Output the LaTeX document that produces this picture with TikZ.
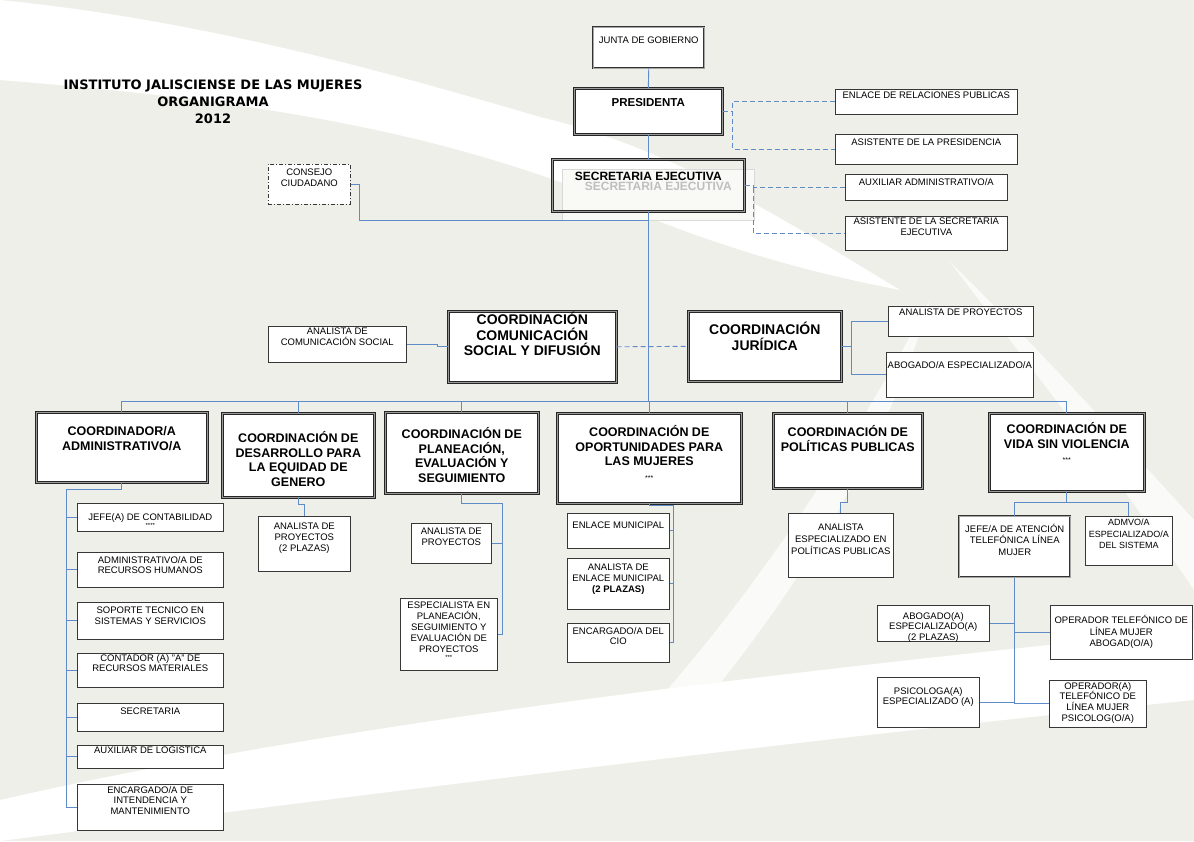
\documentclass[tikz,border=0pt]{standalone}
\usepackage{fontspec}
\setmainfont{Liberation Sans}
\newfontfamily\titulofont{DejaVu Sans}

\definecolor{fondo}{RGB}{239,239,233}
\definecolor{linea}{RGB}{95,140,200}
\definecolor{borde}{RGB}{55,55,55}

\tikzset{every picture/.style={line width=0.75pt},
  caja/.style={draw=borde, fill=white, line width=0.6pt, inner sep=0pt, anchor=north west,
    font=\fontsize{9.5}{10.8}\selectfont},
  cajafina/.style={caja, draw=black!80, double=black!35, double distance=0.9pt, line width=0.5pt},
  cajadoble/.style={caja, draw=black!85, double=black!40, double distance=1.4pt, line width=0.6pt,
    font=\bfseries\fontsize{12.5}{14.7}\selectfont},
  rama/.style={draw=linea, line width=0.9pt},
  ramapunteada/.style={rama, dash pattern=on 5pt off 3pt},
}
% texto arriba dentro de una caja de ancho #1, alto #2, margen superior #3
\newcommand{\cuadro}[4]{\parbox[t][#2pt][t]{#1pt}{\centering\vspace*{#3pt}#4\par}}

\begin{document}
\begin{tikzpicture}[x=1pt,y=1pt,yscale=-1]
\useasboundingbox (0,0) rectangle (1194,841);

% fondo y franjas blancas
\fill[fondo] (0,0) rectangle (1194,841);
\fill[white] (0,0) -- (0,80) .. controls (250,100) and (450,130) .. (643,215) .. controls (760,262) and (850,280) .. (900,290) .. controls (800,230) and (680,150) .. (540,117) .. controls (380,70) and (200,20) .. (0,0) -- cycle;
\fill[white] (0,800) .. controls (350,720) and (800,670) .. (1194,630) -- (1194,700) .. controls (800,740) and (400,790) .. (0,841) -- cycle;
\fill[white, opacity=0.7] (950,262) .. controls (1050,360) and (1130,450) .. (1194,520) -- (1194,590) .. controls (1120,480) and (1040,380) .. (950,262) -- cycle;
\fill[white, opacity=0.7] (930,300) .. controls (860,430) and (760,590) .. (640,720) -- (690,720) .. controls (800,590) and (890,440) .. (930,300) -- cycle;

% Titulo
\node[font=\titulofont\bfseries\fontsize{13}{17}\selectfont, align=center] (titulo) at (213,102) {INSTITUTO JALISCIENSE DE LAS MUJERES\\ORGANIGRAMA\\2012};

% Direccion
\node[cajafina] (jg) at (593,27) {\cuadro{111}{41}{10}{JUNTA DE GOBIERNO}};
\node[cajadoble, font=\bfseries\fontsize{11.5}{13}\selectfont] (pres) at (574,88) {\cuadro{148}{46}{10}{PRESIDENTA}};
\node[caja, draw=black!15, fill=white!60!fondo, font=\bfseries\fontsize{12}{13}\selectfont, text=black!25] (sefondo) at (562,169) {\cuadro{192}{51}{13}{SECRETARIA EJECUTIVA}};
\node[cajadoble, fill=none, font=\bfseries\fontsize{12}{13}\selectfont] (se) at (552,159) {\cuadro{192}{52}{13}{SECRETARIA EJECUTIVA}};

% Apoyo de presidencia y secretaria
\node[caja] (enl) at (835,89) {\cuadro{182}{25}{3}{ENLACE DE RELACIONES PUBLICAS}};
\node[caja] (asp) at (835,134) {\cuadro{182}{30}{5}{ASISTENTE DE LA PRESIDENCIA}};
\node[caja] (aux) at (845,174) {\cuadro{162}{26}{4}{AUXILIAR ADMINISTRATIVO/A}};
\node[caja] (ase) at (845,216) {\cuadro{162}{34}{2}{ASISTENTE DE LA SECRETARIA\\EJECUTIVA}};
\node[caja, dash pattern=on 4pt off 2pt on 1pt off 2pt] (cc) at (268,164) {\cuadro{82}{40}{5}{CONSEJO\\CIUDADANO}};

% Coordinaciones intermedias
\node[caja] (acs) at (268,326) {\cuadro{138}{36}{2}{ANALISTA DE\\COMUNICACIÓN SOCIAL}};
\node[cajadoble, font=\bfseries\fontsize{14}{15.5}\selectfont] (ccs) at (448,311) {\cuadro{168}{71}{1}{COORDINACIÓN\\COMUNICACIÓN\\SOCIAL Y DIFUSIÓN}};
\node[cajadoble, font=\bfseries\fontsize{14}{16}\selectfont] (jur) at (688,311) {\cuadro{153}{70}{11}{COORDINACIÓN\\JURÍDICA}};
\node[caja] (apj) at (888,306) {\cuadro{145}{30}{3}{ANALISTA DE PROYECTOS}};
\node[caja] (abj) at (886,352) {\cuadro{147}{45}{9}{ABOGADO/A ESPECIALIZADO/A}};

% Coordinaciones de area
\node[cajadoble] (adm) at (36,412) {\cuadro{171}{70}{14}{COORDINADOR/A\\ADMINISTRATIVO/A}};
\node[cajadoble] (des) at (222,413) {\cuadro{152}{84}{18}{COORDINACIÓN DE\\DESARROLLO PARA\\LA EQUIDAD DE\\GENERO}};
\node[cajadoble] (pla) at (385,412) {\cuadro{153}{81}{15}{COORDINACIÓN DE\\PLANEACIÓN,\\EVALUACIÓN Y\\SEGUIMIENTO}};
\node[cajadoble] (opo) at (557,413) {\cuadro{184}{90}{12}{COORDINACIÓN DE\\OPORTUNIDADES PARA\\LAS MUJERES\\{\mdseries\fontsize{7}{8}\selectfont ***}}};
\node[cajadoble] (pol) at (773,413) {\cuadro{149}{75}{12}{COORDINACIÓN DE\\POLÍTICAS PUBLICAS}};
\node[cajadoble] (vid) at (989,413) {\cuadro{155}{78}{9}{COORDINACIÓN DE\\VIDA SIN VIOLENCIA\\{\mdseries\fontsize{7}{8}\selectfont ***}}};

% Administracion
\node[caja] (jefc) at (77,503) {\cuadro{146}{28}{10}{JEFE(A) DE CONTABILIDAD\\[-3pt]{\fontsize{6}{6}\selectfont ****}}};
\node[caja] (arh) at (77,552) {\cuadro{146}{35}{4}{ADMINISTRATIVO/A  DE\\RECURSOS HUMANOS}};
\node[caja] (sop) at (77,602) {\cuadro{146}{37}{5}{SOPORTE TECNICO EN\\SISTEMAS Y SERVICIOS}};
\node[caja] (crm) at (77,653) {\cuadro{146}{34}{1}{CONTADOR (A) "A"  DE\\RECURSOS MATERIALES}};
\node[caja] (sec) at (77,703) {\cuadro{146}{28}{5}{SECRETARIA}};
\node[caja] (axl) at (77,745) {\cuadro{146}{23}{2}{AUXILIAR DE LOGISTICA}};
\node[caja] (int) at (77,784) {\cuadro{146}{46}{2}{ENCARGADO/A DE\\INTENDENCIA Y\\MANTENIMIENTO}};

% Desarrollo y planeacion
\node[caja] (apd) at (258,516) {\cuadro{92}{55}{7}{ANALISTA DE\\PROYECTOS\\(2 PLAZAS)}};
\node[caja] (apl) at (411,523) {\cuadro{80}{40}{5}{ANALISTA DE\\PROYECTOS}};
\node[caja] (esp) at (400,598) {\cuadro{97}{72}{4}{ESPECIALISTA EN\\PLANEACIÓN,\\SEGUIMIENTO Y\\EVALUACIÓN DE\\PROYECTOS\\[-3pt]{\fontsize{6}{6}\selectfont ***}}};

% Oportunidades
\node[caja] (enm) at (567,513) {\cuadro{102}{35}{9}{ENLACE MUNICIPAL}};
\node[caja] (aem) at (567,558) {\cuadro{102}{51}{6}{ANALISTA DE\\ENLACE MUNICIPAL\\\textbf{(2 PLAZAS)}}};
\node[caja] (cio) at (567,623) {\cuadro{102}{39}{4}{ENCARGADO/A DEL\\CIO}};

% Politicas publicas
\node[caja, font=\fontsize{9.5}{12}\selectfont] (aep) at (788,513) {\cuadro{105}{64}{11}{ANALISTA\\ESPECIALIZADO EN\\POLÍTICAS PUBLICAS}};

% Vida sin violencia
\node[cajafina, font=\fontsize{9.5}{11.5}\selectfont] (jef) at (959,516) {\cuadro{111}{61}{8}{JEFE/A DE ATENCIÓN\\TELEFÓNICA LÍNEA\\MUJER}};
\node[caja, font=\fontsize{9}{11.5}\selectfont] (adv) at (1085,516) {\cuadro{87}{49}{3}{ADMVO/A\\ESPECIALIZADO/A\\DEL SISTEMA}};
\node[caja] (abo) at (877,605) {\cuadro{112}{36}{7}{ABOGADO(A)\\ESPECIALIZADO(A)\\(2 PLAZAS)}};
\node[caja, font=\fontsize{9.5}{11.5}\selectfont] (opa) at (1050,605) {\cuadro{142}{54}{10}{OPERADOR TELEFÓNICO DE\\LÍNEA MUJER\\ABOGAD(O/A)}};
\node[caja] (psi) at (877,677) {\cuadro{102}{50}{10}{PSICOLOGA(A)\\ESPECIALIZADO (A)}};
\node[caja] (opp) at (1049,680) {\cuadro{97}{47}{2}{OPERADOR(A)\\TELEFÓNICO DE\\LÍNEA MUJER\\PSICOLOG(O/A)}};

% Conectores
\coordinate (bus) at (648,401);
\coordinate (cj) at (648,220);
\draw[rama] (jg.south) -- (pres.north);
\draw[rama] (pres.south) -- (se.north);
\draw[rama] (se.south) -- (se.south |- bus);
\coordinate (pj) at ([xshift=10pt]pres.east);
\draw[ramapunteada] (pres.east) -- (pj);
\draw[ramapunteada] (enl.west) -| (pj) |- (asp.west);
\coordinate (sj) at ([xshift=9pt]se.east);
\draw[ramapunteada] (se.east) -- (sj);
\draw[ramapunteada] (aux.west) -| (sj) |- (ase.west);
\draw[rama] (cc.east) -- ++(9,0) |- (cj);
\draw[rama] (acs.east) -- ++(31,0) |- (ccs.west);
\draw[ramapunteada] (ccs.east) -- (jur.west);
\coordinate (jj) at ([xshift=10pt]jur.east);
\draw[rama] (jur.east) -- (jj);
\draw[rama] (apj.west) -| (jj) |- (abj.west);

\draw[rama] (adm.north) |- (vid.north |- bus) -- (vid.north);
\foreach \n in {des,pla,opo,pol}
  \draw[rama] (\n.north) -- (\n.north |- bus);

\coordinate (espina) at (66,489);
\draw[rama] (adm.south) |- (espina) -- (espina |- int.west);
\foreach \n in {jefc,arh,sop,crm,sec,axl,int}
  \draw[rama] (\n.west) -- (\n.west -| espina);

\draw[rama] (des.south) -- ++(0,7) -| (apd.north);
\coordinate (pe) at (502,503);
\draw[rama] (pla.south) |- (pe) |- (esp.east);
\draw[rama] (apl.east) -- (apl.east -| pe);

\coordinate (oe) at (673,505);
\draw[rama] (opo.south) |- (oe) |- (cio.east);
\draw[rama] (enm.east) -- (enm.east -| oe);
\draw[rama] (aem.east) -- (aem.east -| oe);

\draw[rama] (pol.south) -- ++(0,14) -| (aep.north);

\draw[rama] (vid.south) -- ++(0,11) -| (jef.north);
\draw[rama] (vid.south) -- ++(0,11) -| (adv.north);
\draw[rama] (jef.south) -- (jef.south |- opp.west);
\foreach \n in {abo,psi}
  \draw[rama] (\n.east) -- (\n.east -| jef.south);
\foreach \n in {opa,opp}
  \draw[rama] (\n.west) -- (\n.west -| jef.south);

\end{tikzpicture}
\end{document}
